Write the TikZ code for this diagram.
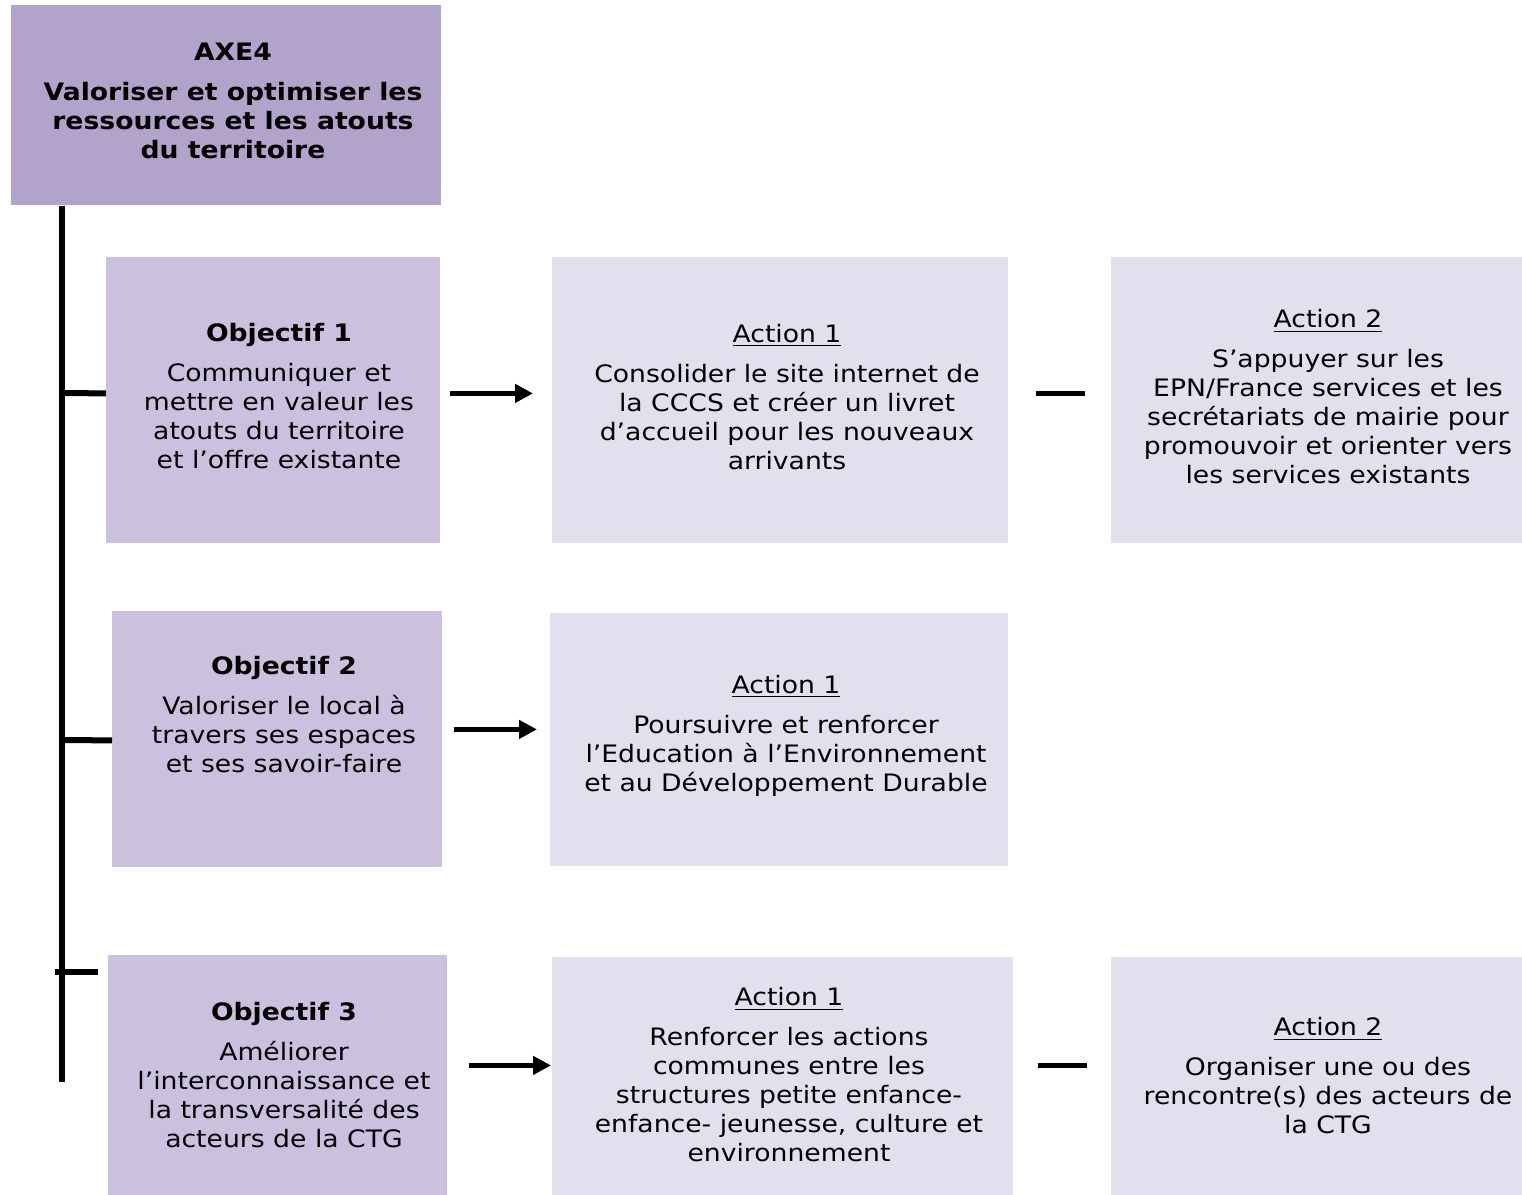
\documentclass[tikz,border=0pt]{standalone}
\usepackage{fontspec}
\setmainfont{DejaVu Sans}[FakeStretch=1.11]
\usetikzlibrary{arrows.meta,calc}
\definecolor{axecol}{HTML}{B1A3C9}
\definecolor{objcol}{HTML}{CBC1DE}
\definecolor{actcol}{HTML}{E4DFEC}
\begin{document}
\begin{tikzpicture}[x=0.5pt,y=-0.5pt,
  font=\fontsize{12}{14.5}\selectfont,
  box/.style={draw=none,inner sep=0pt,anchor=north west},
  axebox/.style={box,fill=axecol},
  objbox/.style={box,fill=objcol},
  actbox/.style={box,fill=actcol},
  txt/.style={align=center,inner sep=0pt},
  trunk/.style={line width=3pt},
  arr/.style={line width=2.5pt,-{Triangle[length=9pt,width=9pt]}},
  dash line/.style={line width=2.5pt}]
\useasboundingbox (0,0) rectangle (1522,1195);
% boxes
\node[axebox,minimum width=215pt,minimum height=100pt] (axe) at (11,5) {};
\node[objbox,minimum width=167pt,minimum height=143pt] (o1) at (106,257) {};
\node[actbox,minimum width=228pt,minimum height=143pt] (a1) at (552,257) {};
\node[actbox,minimum width=205.5pt,minimum height=143pt] (b1) at (1111,257) {};
\node[objbox,minimum width=165pt,minimum height=128pt] (o2) at (112,611) {};
\node[actbox,minimum width=229pt,minimum height=126.5pt] (a2) at (550,613) {};
\node[objbox,minimum width=169.5pt,minimum height=120pt] (o3) at (108,955) {};
\node[actbox,minimum width=230.5pt,minimum height=119pt] (a3) at (552,957) {};
\node[actbox,minimum width=205.5pt,minimum height=119pt] (b3) at (1111,957) {};
% texts
\node[txt] (axet) at (233,101) {\textbf{AXE4}\\[5.5pt]\textbf{Valoriser et optimiser les}\\\textbf{ressources et les atouts}\\\textbf{du territoire}};
\node[txt] (o1t) at (279,396) {\textbf{Objectif 1}\\[5.5pt]Communiquer et\\mettre en valeur les\\atouts du territoire\\et l’offre existante};
\node[txt] (a1t) at (787,397) {\underline{Action 1}\\[5.5pt]Consolider le site internet de\\la CCCS et créer un livret\\d’accueil pour les nouveaux\\arrivants};
\node[txt] (b1t) at (1328,397) {\underline{Action 2}\\[5.5pt]S’appuyer sur les\\EPN/France services et les\\secrétariats de mairie pour\\promouvoir et orienter vers\\les services existants};
\node[txt] (o2t) at (284,715) {\textbf{Objectif 2}\\[5.5pt]Valoriser le local à\\travers ses espaces\\et ses savoir-faire};
\node[txt] (a2t) at (786,736) {\underline{Action 1}\\[5.5pt]Poursuivre et renforcer\\l’Education à l’Environnement\\et au Développement Durable};
\node[txt] (o3t) at (284,1075) {\textbf{Objectif 3}\\[5.5pt]Améliorer\\l’interconnaissance et\\la transversalité des\\acteurs de la CTG};
\node[txt] (a3t) at (789,1075) {\underline{Action 1}\\[5.5pt]Renforcer les actions\\communes entre les\\structures petite enfance-\\enfance- jeunesse, culture et\\environnement};
\node[txt] (b3t) at (1328,1076) {\underline{Action 2}\\[5.5pt]Organiser une ou des\\rencontre(s) des acteurs de\\la CTG};
% trunk and branches
\coordinate (tend) at (62,1082);
\coordinate (j1) at (62,393);
\coordinate (j2) at (62,740);
\coordinate (j3a) at (55,972);
\coordinate (j3b) at (98,972);
\draw[trunk] ($(axe.south west)+(51,0)$) -- (tend);
\draw[trunk] (j1) -- ($(o1.west)+(0,-7)$);
\draw[trunk] (j2) -- ($(o2.west)+(0,1)$);
\draw[trunk] (j3a) -- (j3b);
% arrows and dashes
\draw[arr] ($(o1.east)+(9,-7)$) -- ($(a1.west)+(-19,-7)$);
\draw[dash line] ($(a1.east)+(27,-7)$) -- ($(b1.west)+(-26,-7)$);
\draw[arr] ($(o2.east)+(11,-10)$) -- ($(a2.west)+(-13,-10.5)$);
\draw[arr] ($(o3.east)+(21,-10)$) -- ($(a3.west)+(-1,-11)$);
\draw[dash line] ($(a3.east)+(24,-11)$) -- ($(b3.west)+(-24,-11)$);
\end{tikzpicture}
\end{document}
